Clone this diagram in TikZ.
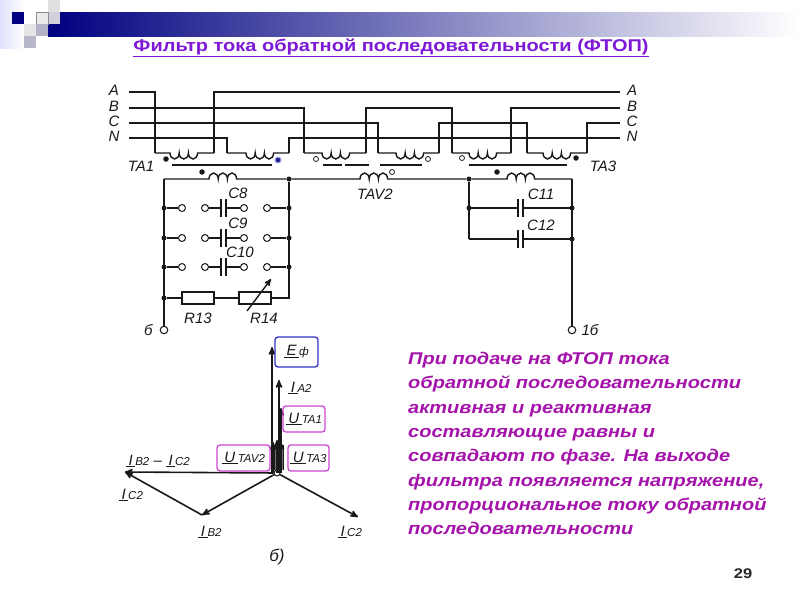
\documentclass[tikz,border=0pt]{standalone}
\usepackage{fontspec}
\setmainfont{Liberation Sans}
\newfontfamily\widefont[FakeStretch=1.176]{Liberation Sans}
\usepackage{tikz}
\usetikzlibrary{arrows,calc,positioning}
\definecolor{navybar}{RGB}{0,0,128}
\definecolor{magentatext}{RGB}{165,20,170}
\definecolor{boxmagenta}{RGB}{205,70,210}
\definecolor{boxblue}{RGB}{50,50,200}
\definecolor{titlepurple}{RGB}{125,25,215}
\definecolor{inkwire}{RGB}{25,25,25}
\newcommand{\phasor}[2]{\underline{\,#1\,}{\fontsize{11.5}{12}\selectfont #2}}
\tikzset{
    %Define standard arrow tip
    >=stealth',
    %Define style for wires
    wire/.style={
           draw=inkwire,
           line width=1.4pt},
    core/.style={
           draw=inkwire,
           line width=1.1pt},
    %Define style for labels
    elabel/.style={
           font=\fontsize{15}{16}\selectfont\itshape,
           text=inkwire,
           inner sep=0pt},
    phlabel/.style={
           font=\fontsize{15}{16}\selectfont\itshape,
           text=inkwire,
           inner sep=0pt},
    junction/.style={
           circle,
           fill=inkwire,
           inner sep=0pt,
           minimum size=5pt},
    polefill/.style={
           circle,
           fill=inkwire,
           inner sep=0pt,
           minimum size=5.5pt},
    polehollow/.style={
           circle,
           draw=inkwire,
           fill=white,
           line width=.8pt,
           inner sep=0pt,
           minimum size=5pt},
    swpole/.style={
           polehollow,
           line width=1pt,
           minimum size=7pt},
    terminal/.style={
           circle,
           draw=inkwire,
           fill=white,
           line width=1.1pt,
           inner sep=0pt,
           minimum size=7.5pt},
    resistor/.style={
           rectangle,
           draw=inkwire,
           fill=white,
           line width=1.2pt,
           inner sep=0pt,
           minimum width=32pt,
           minimum height=12pt},
    phasorline/.style={
           ->,
           draw=inkwire,
           line width=1.6pt},
    magbox/.style={
           rectangle,
           rounded corners=3pt,
           draw=boxmagenta,
           line width=1.3pt,
           font=\fontsize{15}{16}\selectfont\itshape,
           text=inkwire,
           inner sep=0pt},
    bluebox/.style={
           magbox,
           draw=boxblue}
}
\begin{document}
\begin{tikzpicture}[x=1pt,y=-1pt]
\useasboundingbox[fill=white] (0,0) rectangle (800,600);
% header band
\shade[left color=navybar,right color=white] (48,12) rectangle (800,36);
\shade[left color=black!6!blue!12!white,right color=white] (0,0) rectangle (24,48);
\fill[navybar] (12,12) rectangle (24,24);
\fill[blue!5!black!12!white] (48,0) rectangle (60,12);
\fill[blue!25!black!18!white] (48,12) rectangle (60,24);
\fill[blue!8!black!8!white] (36,12) rectangle (48,24);
\draw[black!45,line width=.6pt] (36,12) rectangle (48,24);
\fill[blue!8!black!10!white] (24,24) rectangle (36,36);
\fill[blue!30!black!30!white] (36,24) rectangle (48,36);
\fill[blue!30!black!28!white] (24,36) rectangle (36,48);
\node[font=\widefont\fontsize{17}{18}\selectfont\bfseries,text=titlepurple,inner sep=0pt](title) at (391,48){\underline{Фильтр тока обратной последовательности (ФТОП)}};
% buses
\foreach \name/\y in {A/92,B/108,C/123,N/138}{
  \coordinate (\name0) at (129,\y);
  \coordinate (\name1) at (620,\y);
  \node[elabel](\name lab) at (114,\y-2){\name};
  \node[elabel](\name rab) at (632,\y-2){\name};
}
% current transformer windings
\foreach \name/\xl/\xc/\xr in {t1/155/170/214,t2/227/246/289,t3/304/322/366,t4/378/396/439,t5/452/469/511,t6/527/543/587}{
  \coordinate (\name L) at (\xl,153);
  \coordinate (\name R) at (\xr,153);
  \draw[wire] (\name L) -- (\xc,153) arc (180:0:4.6 and 6) arc (180:0:4.6 and 6) arc (180:0:4.6 and 6) -- (\name R);
}
\draw[wire] (A0) -| (t1L);
\draw[wire] (t1R) |- (A1);
\draw[wire] (B0) -| (t3L);
\draw[wire] (t3R) -- (t3R |- B0) -| (t5L);
\draw[wire] (t5R) |- (B1);
\draw[wire] (C0) -| (t4L);
\draw[wire] (t4R) -- (t4R |- C0) -| (t6L);
\draw[wire] (t6R) |- (C1);
\draw[wire] (N0) -| (t2L);
\draw[wire] (t2R) |- (N1);
% magnetic cores
\foreach \xa/\xb in {172/272,323/342,345/369,380/422,469/567}{
  \draw[core] (\xa,165) -- (\xb,165);
}
\node[polefill](p1) at (166,159){};
\node[circle,fill=boxblue!70!black,draw=boxblue!45,line width=1pt,inner sep=0pt,minimum size=6pt](p2) at (278,160){};
\node[polehollow](p3) at (316,159){};
\node[polehollow](p4) at (428,159){};
\node[polehollow](p5) at (462,158){};
\node[polefill](p6) at (576,158){};
\node[elabel](ta1) at (141,166){TA1};
\node[elabel](ta3) at (603,166){TA3};
% secondary line
\node[junction](j1) at (289,179){};
\node[junction](j2) at (469,179){};
\coordinate (topL) at (164,179);
\coordinate (topR) at (572,179);
\draw[wire] (topL) -- (209,179) arc (180:360:4.6 and 6) arc (180:360:4.6 and 6) arc (180:360:4.6 and 6) -- (j1);
\draw[wire] (j1) -- (360,179) arc (180:360:4.6 and 6) arc (180:360:4.6 and 6) arc (180:360:4.6 and 6) -- (j2);
\draw[wire] (j2) -- (507,179) arc (180:360:4.6 and 6) arc (180:360:4.6 and 6) arc (180:360:4.6 and 6) -- (topR);
\node[polefill](p7) at (202,172){};
\node[polehollow](p8) at (392,172){};
\node[polefill](p9) at (497,172){};
\node[elabel](tav2) at (375,194){TAV2};
% switched capacitors
\node[terminal](b) at (164,330){};
\node[elabel,left=7pt of b](blab){б};
\foreach \name/\y/\lab/\lx in {8/208/C8/238,9/238/C9/238,10/267/C10/240}{
  \node[junction](jl\name) at (164,\y){};
  \node[junction](jr\name) at (289,\y){};
  \node[swpole](sa\name) at (182,\y){};
  \node[swpole](sb\name) at (205,\y){};
  \node[swpole](sc\name) at (244,\y){};
  \node[swpole](sd\name) at (267,\y){};
  \coordinate (pa\name) at (221,\y);
  \coordinate (pb\name) at (226,\y);
  \draw[wire] (jl\name) -- (sa\name);
  \draw[wire] (sb\name) -- (pa\name);
  \draw[wire] (pb\name) -- (sc\name);
  \draw[wire] (sd\name) -- (jr\name);
  \draw[wire] ($(pa\name)+(0,-9)$) -- ($(pa\name)+(0,9)$);
  \draw[wire] ($(pb\name)+(0,-9)$) -- ($(pb\name)+(0,9)$);
  \node[elabel](lab\name) at (\lx,\y-15){\lab};
}
% resistors
\node[junction](jlr) at (164,298){};
\coordinate (jrr) at (289,298);
\node[resistor](R13) at (198,298){};
\node[resistor](R14) at (255,298){};
\draw[wire] (topL) -- (b);
\draw[wire] (j1) -- (jrr) -- (R14);
\draw[wire] (jlr) -- (R13);
\draw[wire] (R13) -- (R14);
\coordinate (r14a) at (247,311);
\coordinate (r14b) at (271,279);
\draw[->,wire] (r14a) -- (r14b);
\node[elabel,below=8pt of R13](lab13){R13};
\node[elabel,below=8pt of R14,xshift=9pt](lab14){R14};
% output capacitors
\coordinate (out) at (572,330);
\node[terminal](o1) at (out){};
\node[elabel,right=5pt of o1](o1lab){1б};
\foreach \name/\y/\lab in {11/208/C11,12/239/C12}{
  \coordinate (cl\name) at (469,\y);
  \coordinate (cr\name) at (572,\y);
  \coordinate (pa\name) at (518,\y);
  \coordinate (pb\name) at (523,\y);
  \draw[wire] (cl\name) -- (pa\name);
  \draw[wire] (pb\name) -- (cr\name);
  \draw[wire] ($(pa\name)+(0,-9)$) -- ($(pa\name)+(0,9)$);
  \draw[wire] ($(pb\name)+(0,-9)$) -- ($(pb\name)+(0,9)$);
  \node[junction] at (cr\name){};
  \node[elabel](lab\name) at (541,\y-14){\lab};
}
\node[junction](j11) at (cl11){};
\draw[wire] (j2) -- (cl12);
\draw[wire] (topR) -- (o1);
% phasor diagram
\coordinate (ephi) at (272,347);
\coordinate (ia) at (279,380);
\coordinate (uta1) at (281,408);
\coordinate (ub1) at (273,442);
\coordinate (ub2) at (277,440);
\coordinate (ub3) at (281,442);
\coordinate (ibc) at (125,472);
\coordinate (ib) at (202,515);
\coordinate (ic) at (358,517);
\fill[black!55] (272,445) rectangle (283,470);
\foreach \x in {274,277,280,283}{
  \draw[inkwire,line width=.8pt] (\x,445) -- (\x,470);
}
\node[circle,draw=inkwire,fill=white,line width=1pt,inner sep=0pt,minimum size=6pt](O) at (277,473){};
\draw[phasorline] (O -| ephi) -- (ephi);
\draw[phasorline] (O -| ia) -- (ia);
\draw[phasorline] (O -| uta1) -- (uta1);
\draw[phasorline] (O -| ub1) -- (ub1);
\draw[phasorline] (O -| ub2) -- (ub2);
\draw[phasorline] (O -| ub3) -- (ub3);
\draw[phasorline] (O) -- (ibc);
\draw[phasorline] (O) -- (ib);
\draw[phasorline] (O) -- (ic);
\draw[phasorline] (ib) -- (ibc);
\node[bluebox,minimum width=43pt,minimum height=30pt](eph) at (296.5,352){\phasor{E}{ф}};
\node[magbox,minimum width=42pt,minimum height=26pt](boxta1) at (304,419){\phasor{U}{TA1}};
\node[magbox,minimum width=53pt,minimum height=26pt](boxtav) at (243.5,458){\phasor{U}{TAV2}};
\node[magbox,minimum width=41pt,minimum height=26pt](boxta3) at (308.5,458){\phasor{U}{TA3}};
\node[phlabel](ia2) at (300,388){\phasor{I}{A2}};
\node[phlabel](ibic) at (158,461){\phasor{I}{B2} -- \phasor{I}{C2}};
\node[phlabel](ic2l) at (131,495){\phasor{I}{C2}};
\node[phlabel](ib2) at (210,532){\phasor{I}{B2}};
\node[phlabel](ic2r) at (350,532){\phasor{I}{C2}};
\node[elabel,font=\fontsize{17}{18}\selectfont\itshape](bcap) at (277,557){б)};
% text
\node[anchor=north west,align=left,inner sep=0pt,text=magentatext,font=\widefont\fontsize{17}{24.3}\selectfont\bfseries\itshape](body) at (408,352){При подаче на ФТОП тока\\обратной последовательности\\активная и реактивная\\составляющие равны и\\совпадают по фазе. На выходе\\фильтра появляется напряжение,\\пропорциональное току обратной\\последовательности};
\node[font=\widefont\fontsize{14}{15}\selectfont\bfseries,text=black!85,inner sep=0pt](pagenum) at (743,574){29};
\end{tikzpicture}
\end{document}
